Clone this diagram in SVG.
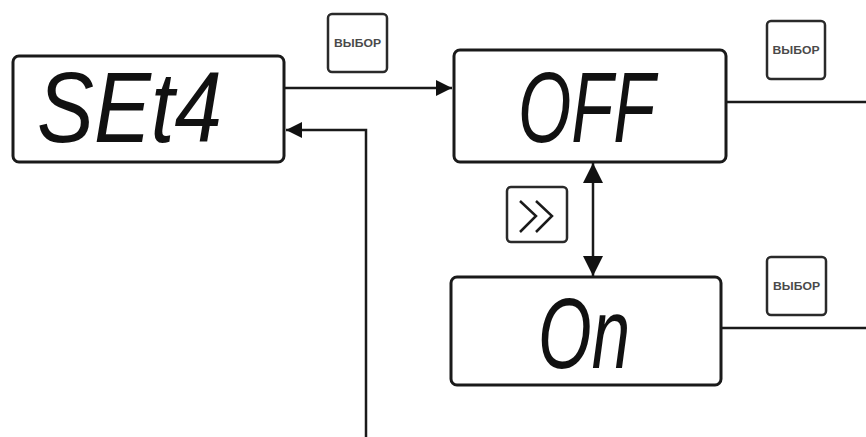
<svg xmlns="http://www.w3.org/2000/svg" width="866" height="437" viewBox="0 0 866 437">
<style>
.disp{fill:#fff;stroke:#1a1a1a;stroke-width:3}
.btn{fill:#fff;stroke:#2a2a2a;stroke-width:2.5}
.seg{font-family:"Liberation Sans",Arial,sans-serif;font-style:italic;font-size:100px;fill:#111}
.lbl{font-family:"Liberation Sans",Arial,sans-serif;font-weight:bold;font-size:11px;fill:#4a4a4a;text-anchor:middle}
.ln{fill:none;stroke:#1a1a1a;stroke-width:2.5}
</style>
<defs>
<marker id="ah" viewBox="0 0 16 16" refX="16" refY="8" markerWidth="16" markerHeight="16" markerUnits="userSpaceOnUse" orient="auto-start-reverse">
<path d="M0,0 L16,8 L0,16 z" fill="#111"/>
</marker>
<marker id="ah2" viewBox="0 0 20 20" refX="20" refY="10" markerWidth="20" markerHeight="20" markerUnits="userSpaceOnUse" orient="auto-start-reverse">
<path d="M0,0 L20,10 L0,20 z" fill="#111"/>
</marker>
</defs>
<rect width="866" height="437" fill="#fff"/>
<g id="connectors">
<path class="ln" d="M284,88 H452" marker-end="url(#ah)"/>
<path class="ln" d="M366,437 V130 H286" marker-end="url(#ah)"/>
<path class="ln" d="M726,102 H866"/>
<path class="ln" d="M721,328 H866"/>
<path class="ln" d="M593,163 V276" marker-start="url(#ah2)" marker-end="url(#ah2)"/>
</g>
<g id="node-set4">
<rect class="disp" x="13" y="56" width="271" height="106" rx="6"/>
<text class="seg" x="37" y="142" textLength="185" lengthAdjust="spacingAndGlyphs">SEt4</text>
</g>
<g id="node-off">
<rect class="disp" x="454" y="50" width="272" height="112" rx="6"/>
<text class="seg" x="518" y="142" textLength="137" lengthAdjust="spacingAndGlyphs">OFF</text>
</g>
<g id="node-on">
<rect class="disp" x="451" y="277" width="270" height="108" rx="6"/>
<text class="seg" x="538" y="368" textLength="92" lengthAdjust="spacingAndGlyphs">On</text>
</g>
<g id="btn-select-1">
<rect class="btn" x="328" y="14" width="59" height="58" rx="4"/>
<text class="lbl" x="357.5" y="47" textLength="47" lengthAdjust="spacingAndGlyphs">ВЫБОР</text>
</g>
<g id="btn-select-2">
<rect class="btn" x="767" y="21" width="58" height="58" rx="4"/>
<text class="lbl" x="796" y="54" textLength="47" lengthAdjust="spacingAndGlyphs">ВЫБОР</text>
</g>
<g id="btn-select-3">
<rect class="btn" x="767" y="257" width="59" height="58" rx="4"/>
<text class="lbl" x="796.5" y="290" textLength="47" lengthAdjust="spacingAndGlyphs">ВЫБОР</text>
</g>
<g id="btn-next">
<rect class="btn" x="507" y="187" width="60" height="55" rx="4"/>
<polyline class="ln" points="520,201 536,216 520,232"/>
<polyline class="ln" points="536,201 552,216 536,232"/>
</g>
</svg>
